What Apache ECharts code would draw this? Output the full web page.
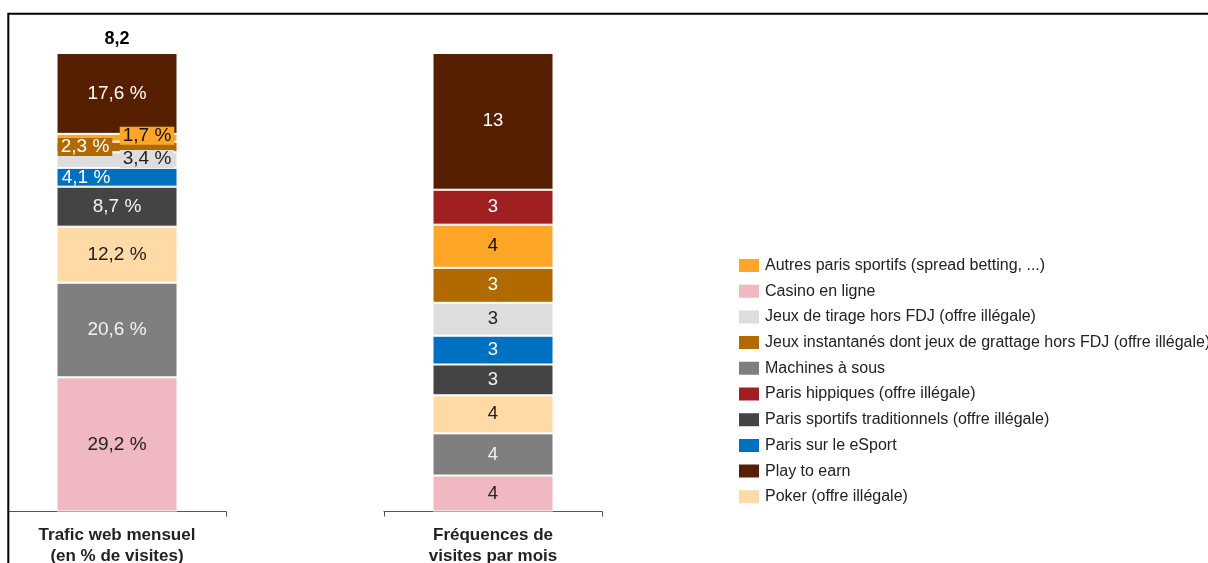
<!DOCTYPE html>
<html><head><meta charset="utf-8">
<script src="https://cdn.jsdelivr.net/npm/echarts@6/dist/echarts.min.js"></script>
<style>html,body{margin:0;padding:0;background:#fff}#c{width:1208px;height:563px}</style>
</head><body><div id="c"></div>
<script>
// ---- data ----
const seriesNames = [
  'Casino en ligne',
  'Machines à sous',
  'Poker (offre illégale)',
  'Paris sportifs traditionnels (offre illégale)',
  'Paris sur le eSport',
  'Jeux de tirage hors FDJ (offre illégale)',
  'Jeux instantanés dont jeux de grattage hors FDJ (offre illégale)',
  'Autres paris sportifs (spread betting, ...)',
  'Paris hippiques (offre illégale)',
  'Play to earn'
];
const traficValues    = [29.2, 20.6, 12.2, 8.7, 4.1, 3.4, 2.3, 1.7, 0, 17.6];
const frequenceValues = [3.5, 4.1, 3.7, 3.0, 2.8, 3.2, 3.4, 4.2, 3.4, 13.3];
const categoryLeft  = ['Trafic web mensuel\n(en % de visites)'];
const categoryRight = ['Fréquences de\nvisites par mois'];
const totalLabel = '8,2';
const legendOrder = [
  'Autres paris sportifs (spread betting, ...)',
  'Casino en ligne',
  'Jeux de tirage hors FDJ (offre illégale)',
  'Jeux instantanés dont jeux de grattage hors FDJ (offre illégale)',
  'Machines à sous',
  'Paris hippiques (offre illégale)',
  'Paris sportifs traditionnels (offre illégale)',
  'Paris sur le eSport',
  'Play to earn',
  'Poker (offre illégale)'
];

// ---- styles ----
const FONT = '"Liberation Sans", Arial, sans-serif';
const colors = {
  'Casino en ligne': '#F0B8C1',
  'Machines à sous': '#7F7F7F',
  'Poker (offre illégale)': '#FFDAA6',
  'Paris sportifs traditionnels (offre illégale)': '#444444',
  'Paris sur le eSport': '#0070C0',
  'Jeux de tirage hors FDJ (offre illégale)': '#DDDDDD',
  'Jeux instantanés dont jeux de grattage hors FDJ (offre illégale)': '#B06A00',
  'Autres paris sportifs (spread betting, ...)': '#FFA629',
  'Paris hippiques (offre illégale)': '#A02022',
  'Play to earn': '#561F00'
};
const labelColors = {
  'Casino en ligne': '#222',
  'Machines à sous': '#f2f2f2',
  'Poker (offre illégale)': '#222',
  'Paris sportifs traditionnels (offre illégale)': '#f2f2f2',
  'Paris sur le eSport': '#fff',
  'Jeux de tirage hors FDJ (offre illégale)': '#222',
  'Jeux instantanés dont jeux de grattage hors FDJ (offre illégale)': '#fff',
  'Autres paris sportifs (spread betting, ...)': '#111',
  'Paris hippiques (offre illégale)': '#fff',
  'Play to earn': '#fff'
};
// label adjustments for thin segments in the left bar
const leftLabelTweaks = {
  'Autres paris sportifs (spread betting, ...)': {offset: [30, -2], backgroundColor: '#FFA629', padding: [0, 3]},
  'Jeux instantanés dont jeux de grattage hors FDJ (offre illégale)': {offset: [-32, 0], backgroundColor: '#B06A00', padding: [0, 3]},
  'Jeux de tirage hors FDJ (offre illégale)': {offset: [30, -1], backgroundColor: '#DDDDDD', padding: [0, 3]},
  'Paris sur le eSport': {offset: [-31, 0]}
};

const sumL = traficValues.reduce((a, b) => a + b, 0);
const sumR = frequenceValues.reduce((a, b) => a + b, 0);
const BW = 121;

const series = [];
seriesNames.forEach((name, i) => {
  const tweak = leftLabelTweaks[name] || {};
  series.push({
    name, type: 'bar', stack: 'L', xAxisIndex: 0, yAxisIndex: 0, barWidth: BW,
    itemStyle: {color: colors[name], borderColor: '#fff', borderWidth: 1},
    data: [{value: traficValues[i], label: Object.assign({}, tweak)}],
    label: {
      show: true, position: 'inside', fontFamily: FONT, fontSize: 19, lineHeight: 18,
      color: labelColors[name],
      formatter: p => p.value ? p.value.toFixed(1).replace('.', ',') + ' %' : ''
    }
  });
  series.push({
    name, type: 'bar', stack: 'R', xAxisIndex: 1, yAxisIndex: 1, barWidth: BW,
    itemStyle: {color: colors[name], borderColor: '#fff', borderWidth: 1},
    data: [frequenceValues[i]],
    label: {
      show: true, position: 'inside', fontFamily: FONT, fontSize: 18.5,
      color: labelColors[name],
      formatter: p => String(Math.round(p.value))
    }
  });
});
series.push({
  name: 'total', type: 'bar', stack: 'L', xAxisIndex: 0, yAxisIndex: 0, barWidth: BW,
  silent: true, itemStyle: {color: 'rgba(0,0,0,0)'},
  data: [0],
  label: {show: true, position: 'top', distance: 5, formatter: totalLabel,
    fontFamily: FONT, fontSize: 18, fontWeight: 'bold', color: '#000'}
});

const xAxisCommon = {
  type: 'category',
  axisLine: {show: true, lineStyle: {color: '#555', width: 1}},
  axisTick: {show: true, length: 5, alignWithLabel: false, lineStyle: {color: '#555'}},
  axisLabel: {interval: 0, margin: 13, fontFamily: FONT, fontSize: 17, fontWeight: 'bold',
    color: '#222', lineHeight: 21}
};

const chart = echarts.init(document.getElementById('c'), null, {renderer: 'canvas'});
chart.setOption({
  animation: false,
  backgroundColor: '#fff',
  grid: [
    {left: 8, width: 218, top: 53, bottom: 51.5, outerBoundsMode: 'none', containLabel: false},
    {left: 384, width: 218, top: 53, bottom: 51.5, outerBoundsMode: 'none', containLabel: false}
  ],
  xAxis: [
    Object.assign({gridIndex: 0, data: categoryLeft}, xAxisCommon),
    Object.assign({gridIndex: 1, data: categoryRight}, xAxisCommon)
  ],
  yAxis: [
    {gridIndex: 0, type: 'value', min: 0, max: sumL, show: false},
    {gridIndex: 1, type: 'value', min: 0, max: sumR, show: false}
  ],
  legend: {
    data: legendOrder, orient: 'vertical', left: 737, top: 257, padding: 0,
    itemWidth: 22, itemHeight: 15, itemGap: 8.7, icon: 'rect', selectedMode: false,
    textStyle: {fontFamily: FONT, fontSize: 16, color: '#222'}
  },
  graphic: [{
    type: 'rect', silent: true, z: 100,
    shape: {x: 8.3, y: 13.7, width: 1400, height: 800},
    style: {fill: 'none', stroke: '#000', lineWidth: 2}
  }],
  series
});
</script></body></html>
